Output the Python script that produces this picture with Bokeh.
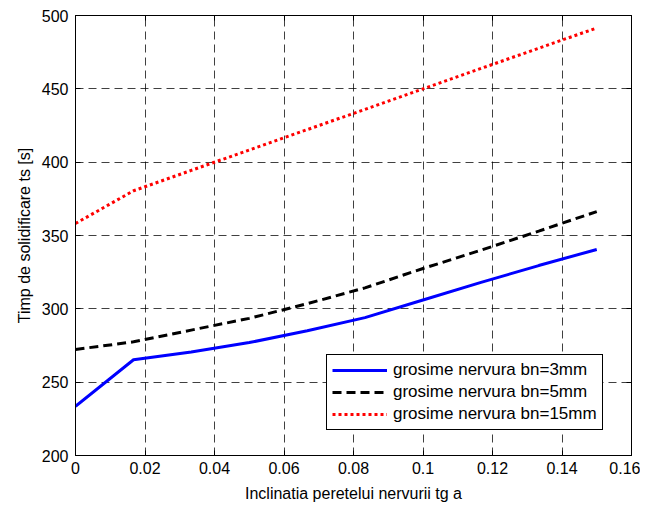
from bokeh.plotting import figure
from bokeh.models import LinearAxis, FixedTicker, Range1d, Legend, LegendItem
from bokeh.embed import file_html
from bokeh.resources import INLINE

# Data
tg_a = [0.0, 0.0167, 0.0333, 0.05, 0.0667, 0.0833, 0.1, 0.1167, 0.1333, 0.15]
ts_bn3 = [233.5, 265.3, 270.5, 277.0, 285.0, 294.0, 306.0, 318.0, 329.5, 340.5]
ts_bn5 = [272.3, 277.5, 285.5, 293.5, 303.5, 314.3, 327.5, 340.0, 353.0, 366.3]
ts_bn15 = [358.2, 380.5, 394.4, 408.3, 422.2, 436.0, 450.0, 463.9, 477.7, 491.5]

labels = ["grosime nervura bn=3mm", "grosime nervura bn=5mm", "grosime nervura bn=15mm"]
x_ticks = [0, 0.02, 0.04, 0.06, 0.08, 0.1, 0.12, 0.14, 0.16]
y_ticks = [200, 250, 300, 350, 400, 450, 500]
x_tick_labels = {0: "0", 0.02: "0.02", 0.04: "0.04", 0.06: "0.06", 0.08: "0.08",
                 0.1: "0.1", 0.12: "0.12", 0.14: "0.14", 0.16: "0.16"}

FONT = "Liberation Sans"
FS = "16px"

p = figure(width=640, height=506, output_backend="svg", toolbar_location=None,
           x_range=Range1d(0, 0.16), y_range=Range1d(200, 500),
           min_border_left=75, min_border_right=9, min_border_top=15, min_border_bottom=51,
           x_axis_label="Inclinatia peretelui nervurii tg a",
           y_axis_label="Timp de solidificare ts [s]")

p.outline_line_color = "black"
p.outline_line_width = 1
p.outline_line_alpha = 1
p.background_fill_color = "white"
p.border_fill_color = "white"

for ax in (p.xaxis[0], p.yaxis[0]):
    ax.major_tick_in = 5
    ax.major_tick_out = 0
    ax.minor_tick_line_color = None
    ax.axis_line_color = "black"
    ax.major_tick_line_color = "black"
    ax.major_label_text_font = FONT
    ax.major_label_text_font_size = FS
    ax.major_label_text_color = "black"
    ax.axis_label_text_font = FONT
    ax.axis_label_text_font_size = FS
    ax.axis_label_text_font_style = "normal"
    ax.axis_label_text_color = "black"

p.xaxis[0].ticker = FixedTicker(ticks=x_ticks)
p.xaxis[0].major_label_overrides = x_tick_labels
p.yaxis[0].ticker = FixedTicker(ticks=y_ticks)
p.xaxis[0].major_label_standoff = 6
p.xaxis[0].axis_label_standoff = 8
p.yaxis[0].major_label_standoff = 7
p.yaxis[0].axis_label_standoff = 6

# Box axes (top/right) with inward ticks
top = LinearAxis(ticker=FixedTicker(ticks=x_ticks), major_label_text_font_size="0px",
                 major_tick_in=5, major_tick_out=0, minor_tick_line_color=None,
                 major_label_standoff=0)
right = LinearAxis(ticker=FixedTicker(ticks=y_ticks), major_label_text_font_size="0px",
                   major_tick_in=5, major_tick_out=0, minor_tick_line_color=None,
                   major_label_standoff=0)
top.major_label_overrides = {t: "" for t in x_ticks}
right.major_label_overrides = {t: "" for t in y_ticks}
p.add_layout(top, "above")
p.add_layout(right, "right")

p.xgrid[0].ticker = FixedTicker(ticks=x_ticks)
p.ygrid[0].ticker = FixedTicker(ticks=y_ticks)
for g in (p.xgrid[0], p.ygrid[0]):
    g.grid_line_color = "black"
    g.grid_line_alpha = 0.75
    g.grid_line_width = 1
    g.grid_line_dash = "8 5"

r1 = p.line(tg_a, ts_bn3, line_color="#0000FF", line_width=3)
r2 = p.line(tg_a, ts_bn5, line_color="black", line_width=3, line_dash="9 5")
r3 = p.line(tg_a, ts_bn15, line_color="#FF0000", line_width=3, line_dash="3 3")

legend = Legend(items=[LegendItem(label=labels[0], renderers=[r1]),
                       LegendItem(label=labels[1], renderers=[r2]),
                       LegendItem(label=labels[2], renderers=[r3])],
                location=(251, 25))
legend.border_line_color = "black"
legend.border_line_width = 1
legend.border_line_alpha = 1
legend.background_fill_color = "white"
legend.background_fill_alpha = 1
legend.label_text_font = FONT
legend.label_text_font_size = "17px"
legend.label_text_color = "black"
legend.glyph_width = 55
legend.glyph_height = 20
legend.label_height = 20
legend.label_standoff = 6
legend.spacing = 2
legend.padding = 5
legend.margin = 0
p.add_layout(legend, "center")

open("out.html", "w").write(file_html(p, INLINE))
